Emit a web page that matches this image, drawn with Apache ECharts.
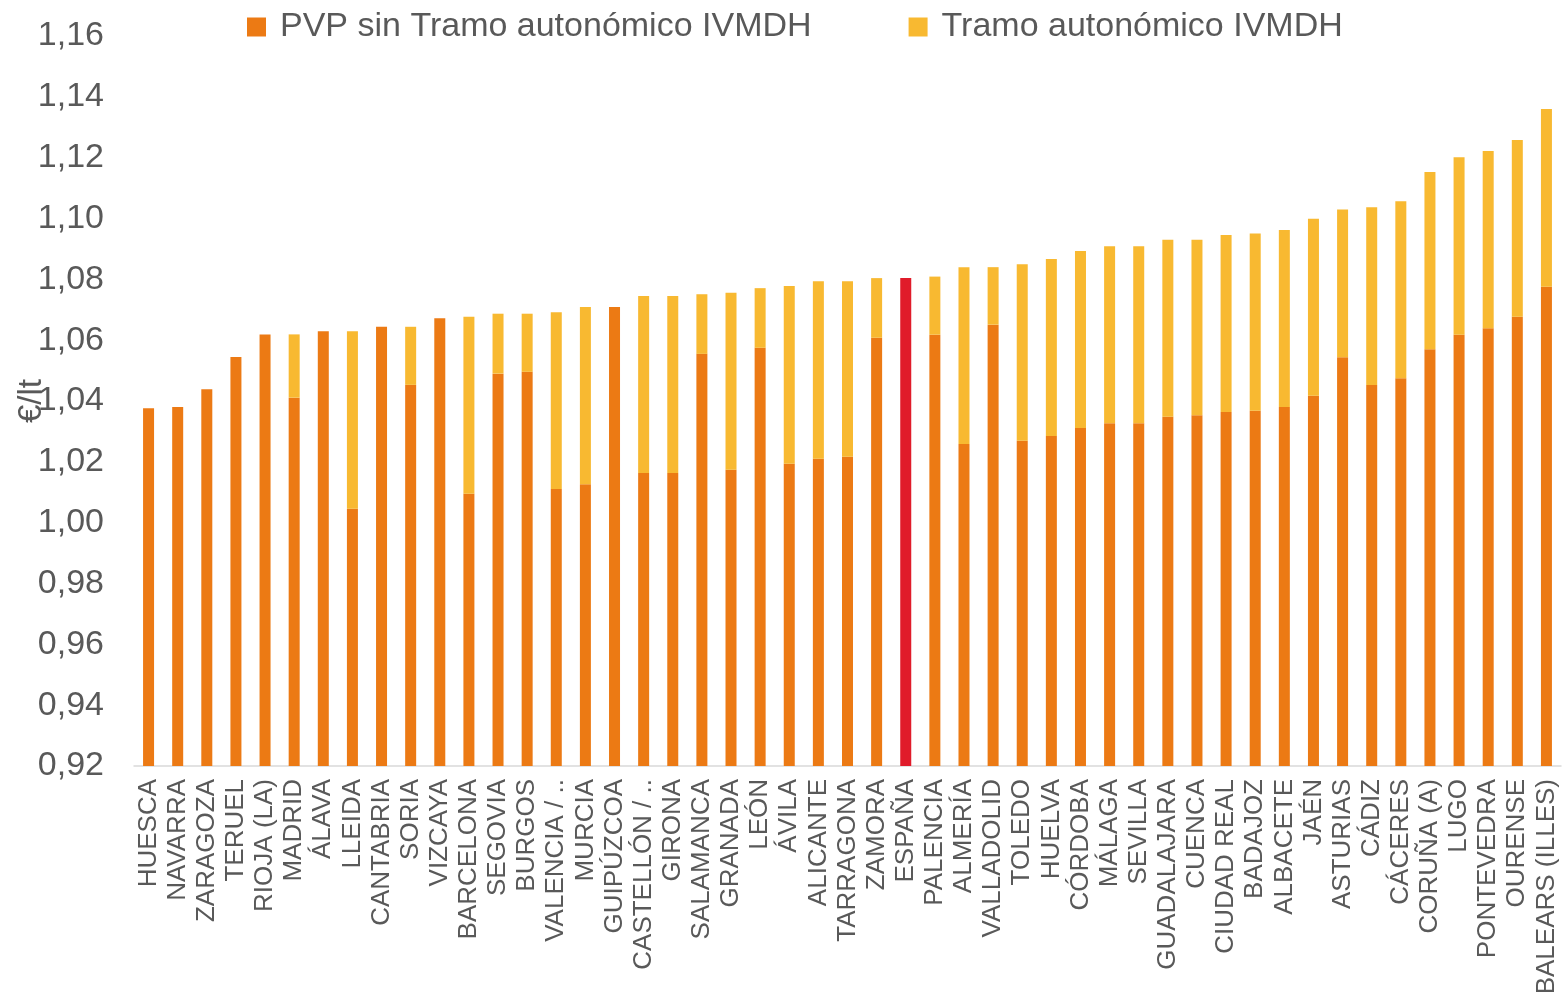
<!DOCTYPE html>
<html>
<head>
<meta charset="utf-8">
<title>PVP por provincia</title>
<script src="https://cdn.jsdelivr.net/npm/echarts@6/dist/echarts.min.js"></script>
<style>
  html, body { margin: 0; padding: 0; background: #fff; }
  #main { width: 1562px; height: 995px; }
</style>
</head>
<body>
<div id="main"></div>
<script>
// provincias ordenadas por precio total
const provincias = [
  'HUESCA', 'NAVARRA', 'ZARAGOZA', 'TERUEL', 'RIOJA (LA)', 'MADRID', 'ÁLAVA', 'LLEIDA',
  'CANTABRIA', 'SORIA', 'VIZCAYA', 'BARCELONA', 'SEGOVIA', 'BURGOS', 'VALENCIA / ..', 'MURCIA',
  'GUIPÚZCOA', 'CASTELLÓN / ..', 'GIRONA', 'SALAMANCA', 'GRANADA', 'LEÓN', 'ÁVILA', 'ALICANTE',
  'TARRAGONA', 'ZAMORA', 'ESPAÑA', 'PALENCIA', 'ALMERÍA', 'VALLADOLID', 'TOLEDO', 'HUELVA',
  'CÓRDOBA', 'MÁLAGA', 'SEVILLA', 'GUADALAJARA', 'CUENCA', 'CIUDAD REAL', 'BADAJOZ', 'ALBACETE',
  'JAÉN', 'ASTURIAS', 'CÁDIZ', 'CÁCERES', 'CORUÑA (A)', 'LUGO', 'PONTEVEDRA', 'OURENSE',
  'BALEARS (ILLES)'
]

// PVP sin tramo autonómico (€/lt)
const pvpSinTramo = [
  1.0376, 1.0380, 1.0439, 1.0545, 1.0619, 1.0411, 1.0629, 1.0046,
  1.0644, 1.0453, 1.0672, 1.0095, 1.0490, 1.0496, 1.0111, 1.0126,
  1.0709, 1.0163, 1.0163, 1.0555, 1.0174, 1.0575, 1.0194, 1.0210,
  1.0217, 1.0608, 1.0804, 1.0618, 1.0259, 1.0651, 1.0269, 1.0285,
  1.0311, 1.0327, 1.0327, 1.0348, 1.0353, 1.0364, 1.0368, 1.0380,
  1.0417, 1.0544, 1.0453, 1.0475, 1.0570, 1.0618, 1.0639, 1.0677,
  1.0776
]

// tramo autonómico IVMDH (€/lt)
const tramoAutonomico = [
  0, 0, 0, 0, 0, 0.0208, 0, 0.0583,
  0, 0.0191, 0, 0.0582, 0.0197, 0.0191, 0.0581, 0.0583,
  0, 0.0582, 0.0582, 0.0196, 0.0582, 0.0196, 0.0584, 0.0584,
  0.0577, 0.0196, 0, 0.0191, 0.0581, 0.0189, 0.0581, 0.0582,
  0.0582, 0.0582, 0.0582, 0.0582, 0.0577, 0.0582, 0.0583, 0.0582,
  0.0582, 0.0486, 0.0584, 0.0582, 0.0583, 0.0583, 0.0583, 0.0581,
  0.0584
]

const naranja = '#EC7A14'
const amarillo = '#F8B931'
const rojo = '#E01B2A'
const gris = '#595959'
const fuente = '"Liberation Sans", Arial, sans-serif'

const myChart = echarts.init(document.getElementById('main'))

myChart.setOption({
  animation: false,
  textStyle: { fontFamily: fuente },
  legend: {
    left: 247,
    top: 10,
    padding: 0,
    icon: 'rect',
    itemWidth: 19,
    itemHeight: 19,
    itemGap: 97,
    textStyle: { fontSize: 34, color: gris, fontFamily: fuente, padding: [0, 0, 0, 9] },
    data: ['PVP sin Tramo autonómico IVMDH', 'Tramo autonómico IVMDH']
  },
  grid: { left: 134, right: 1, top: 36, bottom: 229, outerBoundsMode: 'none' },
  xAxis: {
    type: 'category',
    data: provincias,
    axisLine: { lineStyle: { color: '#D9D9D9', width: 1.5 } },
    axisTick: { show: false },
    axisLabel: {
      interval: 0,
      rotate: 90,
      margin: 13,
      fontSize: 26,
      color: gris,
      fontFamily: fuente
    }
  },
  yAxis: {
    type: 'value',
    min: 0.92,
    max: 1.16,
    interval: 0.02,
    name: '€/lt',
    nameLocation: 'middle',
    nameGap: 86,
    nameMoveOverlap: false,
    nameTextStyle: { fontSize: 33, color: gris, fontFamily: fuente },
    axisLine: { show: false },
    axisTick: { show: false },
    splitLine: { show: false },
    axisLabel: {
      margin: 30,
      fontSize: 34,
      color: gris,
      fontFamily: fuente,
      formatter: v => v.toFixed(2).replace('.', ',')
    }
  },
  series: [
    {
      name: 'PVP sin Tramo autonómico IVMDH',
      type: 'bar',
      stack: 'total',
      barWidth: 11,
      itemStyle: { color: naranja },
      data: pvpSinTramo.map((v, i) =>
        provincias[i] === 'ESPAÑA' ? { value: v, itemStyle: { color: rojo } } : v)
    },
    {
      name: 'Tramo autonómico IVMDH',
      type: 'bar',
      stack: 'total',
      barWidth: 11,
      itemStyle: { color: amarillo },
      data: tramoAutonomico.map(v => (v === 0 ? '-' : v))
    }
  ]
})
</script>
</body>
</html>
